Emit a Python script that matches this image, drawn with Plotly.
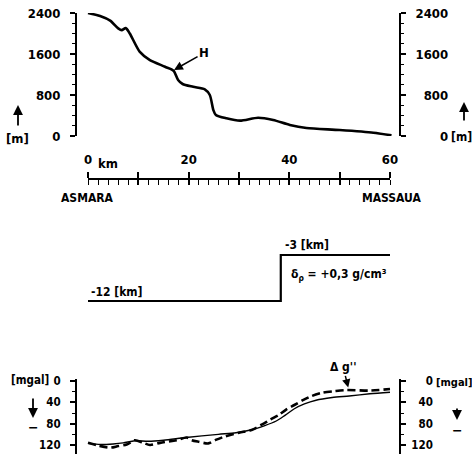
import plotly.graph_objects as go

W, H = 472, 460

# ---------------- data ----------------
dist_km = [0, 2.4, 4.4, 6.0, 6.7, 7.5, 8.3, 10.3, 12.3, 15.3, 17.0, 17.9, 18.8,
           20.9, 23.2, 24.2, 24.9, 25.4, 27.5, 30.2, 33.8, 36.8, 40.1, 43.4, 50, 56.7, 60.3]
height_m = [2400, 2340, 2250, 2100, 2065, 2105, 2000, 1640, 1480, 1352, 1274, 1093, 1015,
            960, 910, 800, 507, 410, 345, 300, 357, 312, 215, 156, 117, 65, 13]

step_km = [0, 38.3, 60]
step_depth_km = [-12, -3, -3]

grav_calc_km = [0, 2.5, 5, 7, 9.3, 12, 15, 19.5, 25.9, 29.4, 32.7, 35, 37.4, 39.2, 41,
                43, 45.3, 48.5, 51.9, 56, 60]
grav_calc_mgal = [117, 119, 118, 116, 112, 113, 111, 106, 100, 97, 91, 84, 75, 64, 52,
                  43, 36, 31, 28, 24, 21]

grav_obs_km = [0, 2, 4.4, 6, 7.7, 9.3, 11, 12.3, 14.3, 17.6, 19.6, 20.6, 22, 23.9, 25.5,
               27.2, 30, 32.5, 34.5, 36.3, 38, 39.3, 41, 42.7, 44.5, 46.6, 49, 51.3, 55.9, 60]
grav_obs_mgal = [116, 121, 125, 122, 119, 111, 116, 120, 116, 111, 106, 111, 114, 117, 110,
                 104, 97, 92, 82, 72, 63, 54, 45, 36, 28, 22, 19, 17, 18, 15]

height_ticks = [0, 800, 1600, 2400]
height_labels_left = ["0", "800", "1600", "2400"]
height_labels_right = ["\u2007\u2007\u20070", "\u2007800", "1600", "2400"]
grav_ticks = [0, 40, 80, 120]
grav_labels_left = ["0", "40", "80", "120"]
grav_labels_right = ["\u2007\u20070", "\u200740", "\u200780", "120"]
scale_ticks = [0, 10, 20, 30, 40, 50, 60]
scale_labels = ["0", "", "20", "", "40", "", "60"]

# ---------------- layout helpers ----------------
def fx(p):
    return p / W

def fy(p):
    return 1 - p / H

FONT = "DejaVu Sans Condensed"
BLACK = "black"
km_per_px = 60 / (390 - 88)
x_range = [(77 - 88) * km_per_px, (399 - 88) * km_per_px]
plot_dom = [fx(77), fx(399)]

fig = go.Figure()

# top: height profile
fig.add_trace(go.Scatter(x=dist_km, y=height_m, mode="lines", xaxis="x", yaxis="y",
                         line=dict(color=BLACK, width=2.6, shape="spline", smoothing=0.7),
                         hoverinfo="skip", showlegend=False))
fig.add_trace(go.Scatter(x=[None], y=[None], xaxis="x", yaxis="y2", showlegend=False,
                         hoverinfo="skip"))
# scale axis carriers
fig.add_trace(go.Scatter(x=scale_ticks, y=[None] * len(scale_ticks), xaxis="x4", yaxis="y",
                         mode="lines", showlegend=False, hoverinfo="skip"))
fig.add_trace(go.Scatter(x=scale_ticks, y=[None] * len(scale_ticks), xaxis="x5", yaxis="y",
                         mode="lines", showlegend=False, hoverinfo="skip"))

# middle: step
fig.add_trace(go.Scatter(x=step_km, y=step_depth_km, mode="lines", xaxis="x2", yaxis="y3",
                         line=dict(color=BLACK, width=2.2, shape="hv"),
                         hoverinfo="skip", showlegend=False))

# bottom: gravity
fig.add_trace(go.Scatter(x=grav_calc_km, y=grav_calc_mgal, mode="lines", xaxis="x3", yaxis="y4",
                         line=dict(color=BLACK, width=1.4, shape="spline", smoothing=0.8),
                         hoverinfo="skip", showlegend=False))
fig.add_trace(go.Scatter(x=grav_obs_km, y=grav_obs_mgal, mode="lines", xaxis="x3", yaxis="y4",
                         line=dict(color=BLACK, width=2.6, dash="8px,4px", shape="spline",
                                   smoothing=0.8),
                         hoverinfo="skip", showlegend=False))
fig.add_trace(go.Scatter(x=[None], y=[None], xaxis="x3", yaxis="y5", showlegend=False,
                         hoverinfo="skip"))

tickfont = dict(family=FONT, size=13, color=BLACK, weight="bold")
tickfont_s = dict(family=FONT, size=11.5, color=BLACK, weight="bold")

yax_common = dict(showline=True, linecolor=BLACK, linewidth=2, ticks="outside", ticklen=5,
                  tickwidth=1.6, tickcolor=BLACK, showgrid=False, zeroline=False,
                  tickmode="array", automargin=False)

y_top_range = [0, 2400]
y_top_dom = [fy(136), fy(13)]
mid_px_per_km = (301 - 255) / 9
y_mid_range = [-12 - (310 - 301) / mid_px_per_km, -3 + (255 - 240) / mid_px_per_km]
g_px_per_mgal = (445 - 381) / 120
y_bot_range = [(454 - 381) / g_px_per_mgal, (379 - 381) / g_px_per_mgal]

minor_top = dict(ticks="outside", ticklen=3, tickwidth=1.3, tickcolor=BLACK,
                 tickmode="linear", tick0=0, dtick=200)
minor_bot = dict(ticks="outside", ticklen=3, tickwidth=1.3, tickcolor=BLACK,
                 tickmode="linear", tick0=0, dtick=20)

fig.update_layout(
    width=W, height=H,
    margin=dict(l=0, r=0, t=0, b=0, pad=0, autoexpand=False),
    paper_bgcolor="white", plot_bgcolor="rgba(0,0,0,0)",
    font=dict(family=FONT, size=12, color=BLACK, weight="bold"),
    showlegend=False,
    xaxis=dict(domain=plot_dom, range=x_range, visible=False, anchor="y", automargin=False),
    yaxis=dict(domain=y_top_dom, range=y_top_range, anchor="x", side="left",
               tickvals=height_ticks, ticktext=height_labels_left, tickfont=tickfont,
               ticklabelstandoff=7, minor=minor_top, **yax_common),
    yaxis2=dict(domain=y_top_dom, range=y_top_range, anchor="x", overlaying="y", side="right",
                tickvals=height_ticks, ticktext=height_labels_right, tickfont=tickfont,
                ticklabelstandoff=7, minor=minor_top, **yax_common),
    xaxis4=dict(domain=[fx(88), fx(390)], range=[0, 60], anchor="free", position=fy(179),
                side="top", showline=True, linecolor=BLACK, linewidth=2,
                ticks="outside", ticklen=6, tickwidth=1.6, tickcolor=BLACK,
                tickmode="array", tickvals=scale_ticks, ticktext=scale_labels,
                tickfont=tickfont, ticklabelstandoff=3, automargin=False,
                minor=dict(ticks="inside", ticklen=5, tickwidth=1.3, tickcolor=BLACK,
                           tickmode="linear", tick0=0, dtick=2),
                showgrid=False, zeroline=False),
    xaxis5=dict(range=[0, 60], overlaying="x4", anchor="free", position=fy(179), side="top",
                showline=False, ticks="inside", ticklen=5, tickwidth=1.6, tickcolor=BLACK,
                tickmode="array", tickvals=scale_ticks, showticklabels=False,
                showgrid=False, zeroline=False, automargin=False),
    xaxis2=dict(domain=plot_dom, range=x_range, visible=False, anchor="y3", automargin=False),
    yaxis3=dict(domain=[fy(310), fy(240)], range=y_mid_range, visible=False, anchor="x2",
                automargin=False),
    xaxis3=dict(domain=plot_dom, range=x_range, visible=False, anchor="y4", automargin=False),
    yaxis4=dict(domain=[fy(454), fy(379)], range=y_bot_range, anchor="x3", side="left",
                tickvals=grav_ticks, ticktext=grav_labels_left, tickfont=tickfont_s,
                ticklabelstandoff=7, minor=minor_bot, **yax_common),
    yaxis5=dict(domain=[fy(454), fy(379)], range=y_bot_range, anchor="x3", overlaying="y4",
                side="right", tickvals=grav_ticks, ticktext=grav_labels_right,
                tickfont=tickfont_s, ticklabelstandoff=3, minor=minor_bot, **yax_common),
)

ann = []

def text(t, x, y, xanchor="center", size=12):
    ann.append(dict(text=t, x=fx(x), y=fy(y), xref="paper", yref="paper", showarrow=False,
                    xanchor=xanchor, yanchor="middle",
                    font=dict(family=FONT, size=size, color=BLACK, weight="bold")))

def arrow(x, y_head, y_tail):
    ann.append(dict(text="", x=fx(x), y=fy(y_head), xref="paper", yref="paper",
                    showarrow=True, ax=0, ay=y_tail - y_head, arrowhead=2, arrowsize=1.1,
                    arrowwidth=1.8, arrowcolor=BLACK))

text("km", 96, 163, xanchor="left", size=13)
text("ASMARA", 87.5, 198, size=12)
text("MASSAUA", 391, 198, size=12)
text("[m]", 17.5, 138, size=13)
arrow(18, 105, 127)
text("[m]", 461, 137, size=12)
arrow(464, 102, 122)

text("-12 [km]", 89, 292, xanchor="left", size=12)
text("-3 [km]", 283, 245, xanchor="left", size=12)
text("\u03b4<sub>\u03c1</sub> = +0,3 g/cm\u00b3", 289, 275, xanchor="left", size=12)

text("[mgal]", 30.5, 380, size=11.5)
arrow(33, 418, 397)
text("\u2212", 33, 427, size=14)
text("[mgal]", 454, 382, size=11)
arrow(457, 420, 407)
text("\u2212", 457, 430, size=14)

# H label with arrow pointing at the curve
ann.append(dict(text="H", x=17.1, y=1290, xref="x", yref="y", showarrow=True,
                ax=30, ay=-17, arrowhead=2, arrowsize=1.1, arrowwidth=1.6, arrowcolor=BLACK,
                font=dict(family=FONT, size=13, color=BLACK, weight="bold")))
# delta g'' label
ann.append(dict(text="\u0394 g''", x=51.7, y=12, xref="x3", yref="y4", showarrow=True,
                ax=-5, ay=-20, arrowhead=2, arrowsize=1.1, arrowwidth=1.5, arrowcolor=BLACK,
                font=dict(family=FONT, size=12, color=BLACK, weight="bold")))

fig.update_layout(annotations=ann)

fig.write_html(
    "out.html",
    config=dict(displayModeBar=False, responsive=False),
    post_script="document.body.style.margin='0';document.body.style.overflow='hidden';",
)
